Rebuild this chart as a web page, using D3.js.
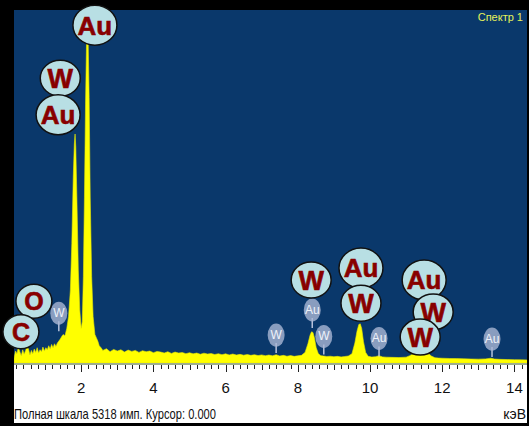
<!DOCTYPE html>
<html>
<head>
<meta charset="utf-8">
<script src="https://cdn.jsdelivr.net/npm/d3@7"></script>
<style>
  html, body { margin: 0; padding: 0; background: #000; }
  svg { display: block; }
</style>
</head>
<body>
<svg id="chart"></svg>
<script>
// spectrum, keV / counts
const energy = [
  0.14, 0.18, 0.22, 0.26, 0.3, 0.34, 0.38, 0.42, 0.46, 0.5, 0.54, 0.58, 0.62, 0.66, 0.7,
  0.74, 0.78, 0.82, 0.86, 0.9, 0.94, 0.98, 1.02, 1.06, 1.1, 1.14, 1.18, 1.22, 1.26, 1.3,
  1.34, 1.38, 1.42, 1.46, 1.5, 1.55, 1.6, 1.65, 1.7, 1.74, 1.78, 1.81, 1.83, 1.85, 1.88,
  1.92, 1.96, 2.0, 2.03, 2.06, 2.09, 2.12, 2.15, 2.17, 2.19, 2.22, 2.25, 2.29, 2.33, 2.38,
  2.42, 2.46, 2.5, 2.55, 2.6, 2.7, 2.8, 2.9, 3.0, 3.1, 3.2, 3.3, 3.4, 3.5, 3.6,
  3.7, 3.8, 3.9, 4.0, 4.1, 4.2, 4.3, 4.4, 4.5, 4.6, 4.7, 4.8, 4.9, 5.0, 5.1,
  5.2, 5.3, 5.4, 5.5, 5.6, 5.7, 5.8, 5.9, 6.0, 6.1, 6.2, 6.3, 6.4, 6.5, 6.6,
  6.7, 6.8, 6.9, 7.0, 7.1, 7.2, 7.3, 7.4, 7.5, 7.6, 7.7, 7.8, 7.9, 8.0, 8.1,
  8.2, 8.28, 8.34, 8.38, 8.42, 8.46, 8.51, 8.57, 8.64, 8.72, 8.8, 8.9, 9.0, 9.1, 9.2,
  9.3, 9.4, 9.5, 9.58, 9.64, 9.69, 9.73, 9.77, 9.82, 9.88, 9.95, 10.05, 10.15, 10.25, 10.35,
  10.45, 10.6, 10.8, 11.0, 11.1, 11.2, 11.3, 11.4, 11.5, 11.6, 11.7, 11.8, 11.9, 12.0, 12.2,
  12.4, 12.6, 12.8, 13.0, 13.2, 13.35, 13.45, 13.6, 13.8, 14.0, 14.2, 14.4
];
const counts = [
  70, 180, 140, 240, 170, 110, 200, 130, 190, 250, 210, 120, 190, 140, 210,
  160, 230, 150, 200, 170, 240, 180, 230, 200, 260, 210, 280, 230, 290, 250,
  300, 330, 360, 400, 430, 410, 520, 700, 1100, 1800, 2800, 3300, 3450, 3250, 2500,
  1400, 800, 520, 620, 1300, 2500, 3900, 4900, 5200, 4950, 4000, 2500, 1300, 700, 430,
  380, 330, 260, 230, 190, 215, 170, 205, 180, 200, 165, 195, 175, 190, 160,
  185, 170, 180, 155, 175, 165, 150, 170, 145, 165, 150, 158, 140, 155, 138,
  150, 132, 148, 135, 142, 128, 140, 125, 138, 122, 135, 120, 130, 118, 128,
  115, 125, 112, 122, 110, 120, 108, 125, 105, 115, 102, 112, 100, 108, 115,
  160, 290, 420, 470, 460, 380, 230, 140, 110, 105, 98, 102, 95, 100, 92,
  98, 105, 140, 300, 480, 580, 590, 520, 320, 160, 100, 90, 95, 110, 92,
  88, 85, 82, 88, 110, 140, 165, 178, 172, 150, 105, 80, 74, 72, 68,
  66, 63, 60, 58, 62, 72, 60, 55, 52, 50, 48, 46
];

const xTicks = [2, 4, 6, 8, 10, 12, 14];
const fullScale = 5318;

// element labels (big circles), anchored at keV / counts
const labelEl = ['Au', 'W', 'Au', 'O', 'C', 'W', 'Au', 'W', 'Au', 'W', 'W'];
const labelKeV = [2.38, 1.42, 1.36, 0.69, 0.33, 8.37, 9.75, 9.75, 11.5, 11.75, 11.39];
const labelCnt = [5090, 4290, 3740, 930, 470, 1250, 1430, 900, 1250, 770, 390];

// faint marker labels
const ghostEl = ['W', 'W', 'Au', 'W', 'Au', 'Au'];
const ghostKeV = [1.38, 7.4, 8.4, 8.72, 10.25, 13.38];
const ghostCnt = [750, 420, 800, 400, 370, 360];

const W = 529, H = 426;
const plot = { left: 14, right: 527, top: 10, bottom: 363 };
const narrow = "'Liberation Sans Narrow', 'Liberation Sans', Arial, sans-serif";

const svg = d3.select('#chart').attr('width', W).attr('height', H);
svg.append('rect').attr('width', W).attr('height', H).attr('fill', '#000');

const x = d3.scaleLinear().domain([0, 14]).range([9, 514.4]);
const y = d3.scaleLinear().domain([0, fullScale]).range([plot.bottom, plot.top]);

svg.append('defs').append('clipPath').attr('id', 'clip')
  .append('rect')
  .attr('x', plot.left).attr('y', plot.top)
  .attr('width', plot.right - plot.left).attr('height', plot.bottom - plot.top);

// blue plot area
svg.append('rect')
  .attr('x', plot.left).attr('y', plot.top)
  .attr('width', plot.right - plot.left).attr('height', plot.bottom - plot.top)
  .attr('fill', '#0a386b');

// white axis strip
svg.append('rect')
  .attr('x', plot.left).attr('y', plot.bottom)
  .attr('width', plot.right - plot.left).attr('height', 60)
  .attr('fill', '#fff');

const spectrum = energy.map((e, i) => ({ e, c: counts[i] }));

const area = d3.area()
  .x(d => x(d.e))
  .y0(plot.bottom)
  .y1(d => y(d.c));

svg.append('path')
  .datum(spectrum)
  .attr('clip-path', 'url(#clip)')
  .attr('d', area)
  .attr('fill', '#ffff00')
  .attr('stroke', '#e8e800')
  .attr('stroke-width', 0.6);

// axis
const ax = svg.append('g');
ax.append('line')
  .attr('x1', plot.left).attr('x2', plot.right)
  .attr('y1', plot.bottom + 1).attr('y2', plot.bottom + 1)
  .attr('stroke', '#3a5a20').attr('stroke-width', 1);

const minor = d3.range(1, 73).map(i => i * 0.2).filter(v => x(v) > plot.left && x(v) < plot.right);
ax.selectAll('line.tick')
  .data(minor)
  .join('line')
  .attr('class', 'tick')
  .attr('x1', d => Math.round(x(d)) + 0.5)
  .attr('x2', d => Math.round(x(d)) + 0.5)
  .attr('y1', plot.bottom + 2)
  .attr('y2', d => plot.bottom + (Math.abs(d - Math.round(d)) < 1e-6 ? (Math.round(d) % 2 === 0 ? 9 : 7) : 6))
  .attr('stroke', '#222').attr('stroke-width', 1);

ax.selectAll('text.tl')
  .data(xTicks)
  .join('text')
  .attr('class', 'tl')
  .attr('x', d => x(d))
  .attr('y', 393)
  .attr('text-anchor', 'middle')
  .attr('font-family', narrow)
  .attr('font-size', 15)
  .attr('fill', '#111')
  .text(d => d);

svg.append('text')
  .attr('x', plot.left)
  .attr('y', 419)
  .attr('font-family', narrow)
  .attr('font-size', 15)
  .attr('fill', '#111')
  .attr('textLength', 202)
  .attr('lengthAdjust', 'spacingAndGlyphs')
  .text('Полная шкала 5318 имп. Курсор: 0.000');

svg.append('text')
  .attr('x', 526)
  .attr('y', 419)
  .attr('text-anchor', 'end')
  .attr('font-family', narrow)
  .attr('font-size', 14)
  .attr('fill', '#111')
  .text('кэВ');

svg.append('text')
  .attr('x', 523)
  .attr('y', 21)
  .attr('text-anchor', 'end')
  .attr('font-family', narrow)
  .attr('font-size', 11)
  .attr('fill', '#e6f25a')
  .text('Спектр 1');

// faint markers
const ghosts = ghostEl.map((el, i) => ({ el, e: ghostKeV[i], c: ghostCnt[i] }));
const gg = svg.selectAll('g.ghost')
  .data(ghosts)
  .join('g')
  .attr('class', 'ghost')
  .attr('transform', d => `translate(${x(d.e)},${y(d.c)})`);
gg.append('line')
  .attr('x1', 0).attr('x2', 0).attr('y1', 8).attr('y2', 18)
  .attr('stroke', '#b9c3dc').attr('stroke-width', 1.5);
gg.append('ellipse')
  .attr('rx', 8.5).attr('ry', 11.5)
  .attr('fill', '#a9b6d4').attr('fill-opacity', 0.8);
gg.append('text')
  .attr('y', 4)
  .attr('text-anchor', 'middle')
  .attr('font-family', narrow)
  .attr('font-size', 12)
  .attr('fill', '#eef2fa')
  .text(d => d.el);

// element circles
const size = { Au: [22, 20, 26], W: [20, 18, 27], O: [18, 17, 25], C: [18, 17, 25] };
const labels = labelEl.map((el, i) => ({ el, e: labelKeV[i], c: labelCnt[i] }));
const lg = svg.selectAll('g.lab')
  .data(labels)
  .join('g')
  .attr('class', 'lab')
  .attr('transform', d => `translate(${x(d.e)},${y(d.c)})`);
lg.append('ellipse')
  .attr('rx', d => size[d.el][0])
  .attr('ry', d => size[d.el][1])
  .attr('fill', '#b8dfe4')
  .attr('stroke', '#111')
  .attr('stroke-width', 1.5);
lg.append('text')
  .attr('y', d => size[d.el][2] * 0.36)
  .attr('text-anchor', 'middle')
  .attr('font-family', "'Liberation Sans', Arial, sans-serif")
  .attr('font-weight', 'bold')
  .attr('font-size', d => size[d.el][2])
  .attr('fill', '#880000')
  .attr('stroke', '#880000')
  .attr('stroke-width', 0.6)
  .text(d => d.el);
</script>
</body>
</html>
